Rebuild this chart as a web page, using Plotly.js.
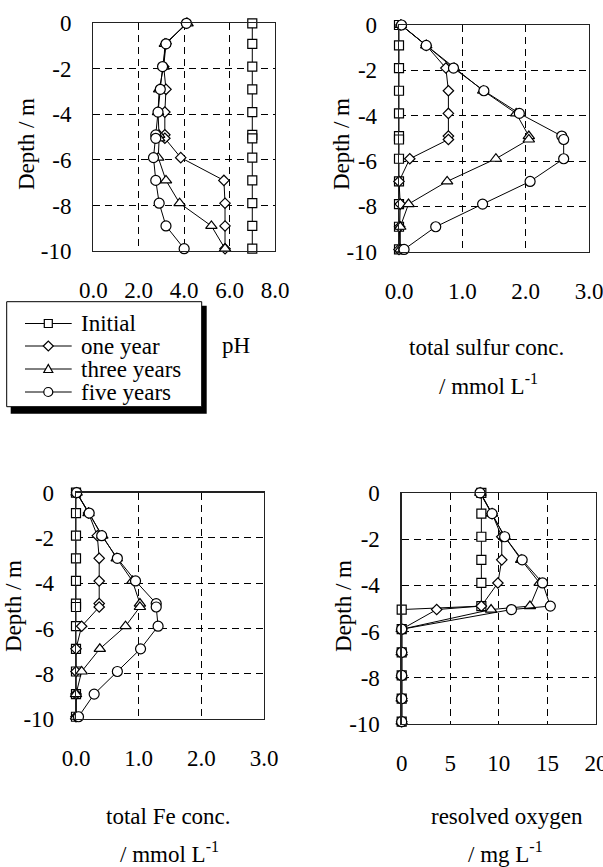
<!DOCTYPE html>
<html><head><meta charset="utf-8">
<script src="https://cdn.plot.ly/plotly-3.0.1.min.js"></script>
<style>html,body{margin:0;padding:0;background:#fff}</style>
</head><body><div id="chart" style="width:603px;height:867px"></div>
<script>
// ---------------- data ----------------
const depth = [0, -0.9, -1.9, -2.9, -3.9, -4.9, -5.05, -5.9, -6.9, -7.9, -8.9, -9.9];
const seriesNames = ['Initial', 'one year', 'three years', 'five years'];

const pH_initial = [7.0, 7.0, 7.0, 7.0, 7.0, 7.0, 7.0, 7.0, 7.0, 7.0, 7.0, 7.0];
const pH_one     = [4.1, 3.2, 3.1, 3.2, 3.15, 3.15, 3.15, 3.85, 5.75, 5.8, 5.8, 5.8];
const pH_three   = [4.15, 3.15, 3.1, 2.9, 2.85, 2.9, 2.9, 2.86, 3.2, 3.8, 5.2, 5.8];
const pH_five    = [4.1, 3.2, 3.05, 2.95, 2.85, 2.75, 2.75, 2.65, 2.75, 2.9, 3.2, 4.0];

const S_initial = [0, 0, 0, 0, 0, 0, 0, 0, 0, 0, 0, 0];
const S_one     = [0.03, 0.43, 0.74, 0.78, 0.78, 0.78, 0.78, 0.17, 0.0, 0.02, 0.01, 0.0];
const S_three   = [0.03, 0.43, 0.87, 1.33, 1.85, 2.05, 2.05, 1.53, 0.76, 0.15, 0.02, 0.02];
const S_five    = [0.04, 0.43, 0.86, 1.34, 1.9, 2.57, 2.6, 2.6, 2.07, 1.32, 0.58, 0.08];

const Fe_initial = [0, 0, 0, 0, 0, 0, 0, 0, 0, 0, 0, 0];
const Fe_one     = [0.01, 0.2, 0.34, 0.37, 0.37, 0.37, 0.37, 0.09, 0.0, 0.0, 0.0, 0.0];
const Fe_three   = [0.01, 0.2, 0.42, 0.65, 0.9, 1.02, 1.02, 0.79, 0.38, 0.09, 0.0, 0.0];
const Fe_five    = [0.01, 0.21, 0.41, 0.66, 0.95, 1.28, 1.28, 1.31, 1.03, 0.66, 0.29, 0.04];

const O_initial = [8.2, 8.2, 8.2, 8.2, 8.2, 8.2, 0, 0, 0, 0, 0, 0];
const O_one     = [8.1, 9.3, 10.3, 10.3, 9.9, 8.2, 3.6, 0, 0, 0, 0, 0];
const O_three   = [8.1, 9.3, 10.6, 12.3, 14.2, 13.2, 9.2, 0, 0, 0, 0, 0];
const O_five    = [8.06, 9.3, 10.6, 12.4, 14.5, 15.3, 11.3, 0, 0, 0, 0, 0];

const yTickVals = [0, -2, -4, -6, -8, -10];
const yTickText = ['0', '-2', '-4', '-6', '-8', '-10'];
const pHTickVals = [0, 2, 4, 6, 8];
const pHTickText = ['0.0', '2.0', '4.0', '6.0', '8.0'];
const concTickVals = [0, 1, 2, 3];
const concTickText = ['0.0', '1.0', '2.0', '3.0'];
const oxTickVals = [0, 5, 10, 15, 20];
const oxTickText = ['0', '5', '10', '15', '20'];

const xTitles = ['pH', 'total sulfur conc.', 'total Fe conc.', 'resolved oxygen'];
const xUnits  = ['', '/ mmol L<sup>-1</sup>', '/ mmol L<sup>-1</sup>', '/ mg L<sup>-1</sup>'];
const yTitle  = 'Depth / m';

// ---------------- styling ----------------
const W = 603, H = 867;
const F = '"Liberation Serif", "Times New Roman", Times, "DejaVu Serif", serif';
const FS = 23;
const X = px => px / W;
const Y = py => 1 - py / H;
const symbols = ['square', 'diamond', 'triangle-up', 'circle'];
const sizes = [9, 8, 10, 10];

const panels = [
  {data: [pH_initial, pH_one, pH_three, pH_five], ax: '',  box: [93.3, 275, 23.3, 251],   range: [0, 8],  tv: pHTickVals,   tt: pHTickText},
  {data: [S_initial, S_one, S_three, S_five],     ax: '2', box: [399, 589, 25, 251.7],    range: [0, 3],  tv: concTickVals, tt: concTickText},
  {data: [Fe_initial, Fe_one, Fe_three, Fe_five], ax: '3', box: [76, 264, 492.7, 719],    range: [0, 3],  tv: concTickVals, tt: concTickText},
  {data: [O_initial, O_one, O_three, O_five],     ax: '4', box: [401.7, 596, 492.8, 724], range: [0, 20], tv: oxTickVals,   tt: oxTickText}
];

const traces = [];
const layout = {
  width: W, height: H, margin: {l: 0, r: 0, t: 0, b: 0},
  paper_bgcolor: '#fff', plot_bgcolor: '#fff', showlegend: false,
  font: {family: F, size: FS, color: '#000'},
  shapes: [], annotations: []
};

panels.forEach((p, pi) => {
  p.data.forEach((vals, si) => {
    traces.push({
      x: vals, y: depth, name: seriesNames[si],
      xaxis: 'x' + p.ax, yaxis: 'y' + p.ax,
      mode: 'lines+markers', cliponaxis: false, hoverinfo: 'skip',
      line: {color: '#000', width: 1},
      marker: {symbol: symbols[si], size: sizes[si], color: '#fff', line: {color: '#000', width: 1.2}}
    });
  });
  const [l, r, t, b] = p.box;
  const common = {
    showgrid: true, gridcolor: '#000', gridwidth: 1, griddash: '7px,5px',
    zeroline: false, showline: true, mirror: true, linecolor: '#222', linewidth: 1.3,
    ticks: '', tickfont: {family: F, size: FS, color: '#000'}, fixedrange: true,
    ticklabeloverflow: 'allow', tickmode: 'array'
  };
  layout['xaxis' + p.ax] = Object.assign({}, common, {
    domain: [X(l), X(r)], range: p.range, tickvals: p.tv, ticktext: p.tt,
    anchor: 'y' + p.ax, ticklabelstandoff: 18
  });
  layout['yaxis' + p.ax] = Object.assign({}, common, {
    domain: [Y(b), Y(t)], range: [-10, 0], tickvals: yTickVals, ticktext: yTickText,
    anchor: 'x' + p.ax, ticklabelstandoff: 16
  });
});

// axis titles as annotations
const yTitlePos = [[26, 144], [341, 144], [13, 606], [343, 606]];
yTitlePos.forEach(([x, y]) => layout.annotations.push({
  text: yTitle, xref: 'paper', yref: 'paper', x: X(x), y: Y(y), textangle: -90,
  showarrow: false, xanchor: 'center', yanchor: 'middle', font: {family: F, size: FS, color: '#000'}
}));
const xTitlePos = [[236, 345], [486, 348], [168, 816], [507, 816]];
const xUnitPos  = [null, [488, 384], [169, 852], [505, 852]];
xTitles.forEach((t, i) => {
  layout.annotations.push({text: t, xref: 'paper', yref: 'paper', x: X(xTitlePos[i][0]), y: Y(xTitlePos[i][1]),
    showarrow: false, xanchor: 'center', yanchor: 'middle', font: {family: F, size: FS, color: '#000'}});
  if (xUnits[i]) layout.annotations.push({text: xUnits[i], xref: 'paper', yref: 'paper', x: X(xUnitPos[i][0]), y: Y(xUnitPos[i][1]),
    showarrow: false, xanchor: 'center', yanchor: 'middle', font: {family: F, size: FS, color: '#000'}});
});

// custom legend (key)
const lg = {l: 6.7, r: 201.7, t: 301.7, b: 406.7, rows: [323.5, 346, 369, 392], x0: 25, x1: 71.7, cx: 48.3, tx: 79};
layout.shapes.push({type: 'rect', xref: 'paper', yref: 'paper', x0: X(lg.l + 4), x1: X(lg.r + 5), y0: Y(lg.t + 4), y1: Y(lg.b + 7),
  fillcolor: '#000', line: {width: 0}});
layout.shapes.push({type: 'rect', xref: 'paper', yref: 'paper', x0: X(lg.l), x1: X(lg.r), y0: Y(lg.t), y1: Y(lg.b),
  fillcolor: '#fff', line: {color: '#000', width: 1}});
lg.rows.forEach((ry, i) => {
  layout.shapes.push({type: 'line', xref: 'paper', yref: 'paper', x0: X(lg.x0), x1: X(lg.x1), y0: Y(ry), y1: Y(ry), line: {color: '#000', width: 1}});
  const c = lg.cx, st = {xref: 'paper', yref: 'paper', fillcolor: '#fff', line: {color: '#000', width: 1.2}};
  if (i === 0) layout.shapes.push(Object.assign({type: 'rect', x0: X(c - 4), x1: X(c + 4), y0: Y(ry - 4), y1: Y(ry + 4)}, st));
  if (i === 1) layout.shapes.push(Object.assign({type: 'path',
    path: `M ${X(c - 5)} ${Y(ry)} L ${X(c)} ${Y(ry - 5)} L ${X(c + 5)} ${Y(ry)} L ${X(c)} ${Y(ry + 5)} Z`}, st));
  if (i === 2) layout.shapes.push(Object.assign({type: 'path',
    path: `M ${X(c - 4.5)} ${Y(ry + 3.5)} L ${X(c + 4.5)} ${Y(ry + 3.5)} L ${X(c)} ${Y(ry - 4.5)} Z`}, st));
  if (i === 3) layout.shapes.push(Object.assign({type: 'circle', x0: X(c - 4.5), x1: X(c + 4.5), y0: Y(ry - 4.5), y1: Y(ry + 4.5)}, st));
  layout.annotations.push({text: seriesNames[i], xref: 'paper', yref: 'paper', x: X(lg.tx), y: Y(ry),
    showarrow: false, xanchor: 'left', yanchor: 'middle', font: {family: F, size: FS, color: '#000'}});
});

Plotly.newPlot('chart', traces, layout, {displayModeBar: false, staticPlot: true});
</script>
</body></html>
